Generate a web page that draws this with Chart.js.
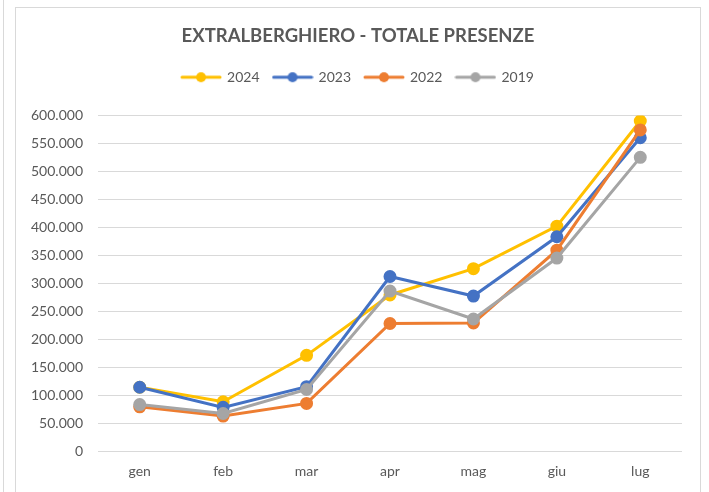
<!DOCTYPE html>
<html>
<head>
<meta charset="utf-8">
<script src="https://cdn.jsdelivr.net/npm/chart.js@4.4.1/dist/chart.umd.min.js"></script>
<style>
  html, body { margin: 0; padding: 0; background: #fff; }
  #edge { position: absolute; left: 3px; top: 0; width: 1px; height: 492px; background: #d9d9d9; }
  #frame { position: absolute; left: 15px; top: 7px; width: 684px; height: 500px; border: 1px solid #d9d9d9; }
  #wrap { position: absolute; left: 16px; top: 8px; width: 684px; height: 484px; }
</style>
</head>
<body>
<div id="edge"></div>
<div id="frame"></div>
<div id="wrap"><canvas id="chart"></canvas></div>
<script>
// mesi
const months = ["gen", "feb", "mar", "apr", "mag", "giu", "lug"];

// presenze per anno
const presenze2024 = [114000, 88000, 171000, 279000, 326000, 402000, 590000];
const presenze2023 = [114000, 78000, 115000, 312000, 277000, 383000, 560000];
const presenze2022 = [79000, 62500, 85000, 228000, 229000, 359000, 574000];
const presenze2019 = [83000, 67000, 110000, 286000, 236000, 345000, 525000];

const seriesNames = ["2024", "2023", "2022", "2019"];
const seriesColors = ["#FFC000", "#4472C4", "#ED7D31", "#A5A5A5"];

const FONT = "Lato, 'Open Sans', sans-serif";
const TEXT = "#595959";

// legend marker: short line with a dot in the middle
function legendMarker(color) {
  const c = document.createElement("canvas");
  c.width = 42;
  c.height = 12;
  const ctx = c.getContext("2d");
  ctx.strokeStyle = color;
  ctx.lineWidth = 3;
  ctx.lineCap = "round";
  ctx.beginPath();
  ctx.moveTo(2, 6);
  ctx.lineTo(40, 6);
  ctx.stroke();
  ctx.fillStyle = color;
  ctx.beginPath();
  ctx.arc(21, 6, 5, 0, Math.PI * 2);
  ctx.fill();
  return c;
}
const markers = seriesColors.map(legendMarker);

function formatIt(v) {
  return String(v).replace(/\B(?=(\d{3})+(?!\d))/g, ".");
}

const allData = [presenze2024, presenze2023, presenze2022, presenze2019];

const datasets = seriesNames.map((name, i) => ({
  label: name,
  data: allData[i],
  borderColor: seriesColors[i],
  backgroundColor: seriesColors[i],
  pointBackgroundColor: seriesColors[i],
  pointBorderColor: seriesColors[i],
  borderWidth: 3,
  pointRadius: 5,
  pointHoverRadius: 5,
  pointStyle: "circle",
  tension: 0,
  order: seriesNames.length - i   // 2019 drawn on top, like the original
}));

new Chart(document.getElementById("chart"), {
  type: "line",
  data: { labels: months, datasets: datasets },
  options: {
    responsive: true,
    maintainAspectRatio: false,
    animation: false,
    layout: { padding: 0 },
    plugins: {
      title: {
        display: true,
        text: "EXTRALBERGHIERO - TOTALE PRESENZE",
        color: TEXT,
        font: { family: FONT, size: 18.5, weight: "bold" },
        padding: { top: 17, bottom: 9 }
      },
      // empty subtitle used only as a gap between legend and plot
      subtitle: {
        display: true,
        text: "",
        weight: 500,
        font: { size: 1 },
        padding: { top: 0, bottom: 20 }
      },
      legend: {
        display: true,
        position: "top",
        labels: {
          color: TEXT,
          font: { family: FONT, size: 14 },
          usePointStyle: true,
          pointStyleWidth: 38,
          padding: 14,
          generateLabels(chart) {
            const items = Chart.defaults.plugins.legend.labels.generateLabels(chart);
            items.forEach(it => { it.pointStyle = markers[it.datasetIndex]; });
            return items;
          },
          sort: (a, b) => a.datasetIndex - b.datasetIndex
        }
      },
      tooltip: { enabled: false }
    },
    scales: {
      x: {
        offset: true,
        grid: { display: false, drawTicks: false },
        border: { display: false },
        ticks: { color: TEXT, font: { family: FONT, size: 14 }, padding: 12 },
        afterFit(scale) { scale.height = 41; }
      },
      y: {
        min: 0,
        max: 600000,
        grid: { color: "#d9d9d9", lineWidth: 1, drawTicks: false },
        border: { display: false },
        ticks: {
          stepSize: 50000,
          color: TEXT,
          font: { family: FONT, size: 14 },
          padding: 15,
          callback: v => formatIt(v)
        },
        afterFit(scale) { scale.width = 82; }
      },
      // blank right axis: keeps an empty margin on the right of the plot
      yRight: {
        position: "right",
        min: 0,
        max: 1,
        grid: { display: false, drawTicks: false },
        border: { display: false },
        ticks: { display: false },
        afterFit(scale) { scale.width = 18; }
      }
    }
  }
});
</script>
</body>
</html>
